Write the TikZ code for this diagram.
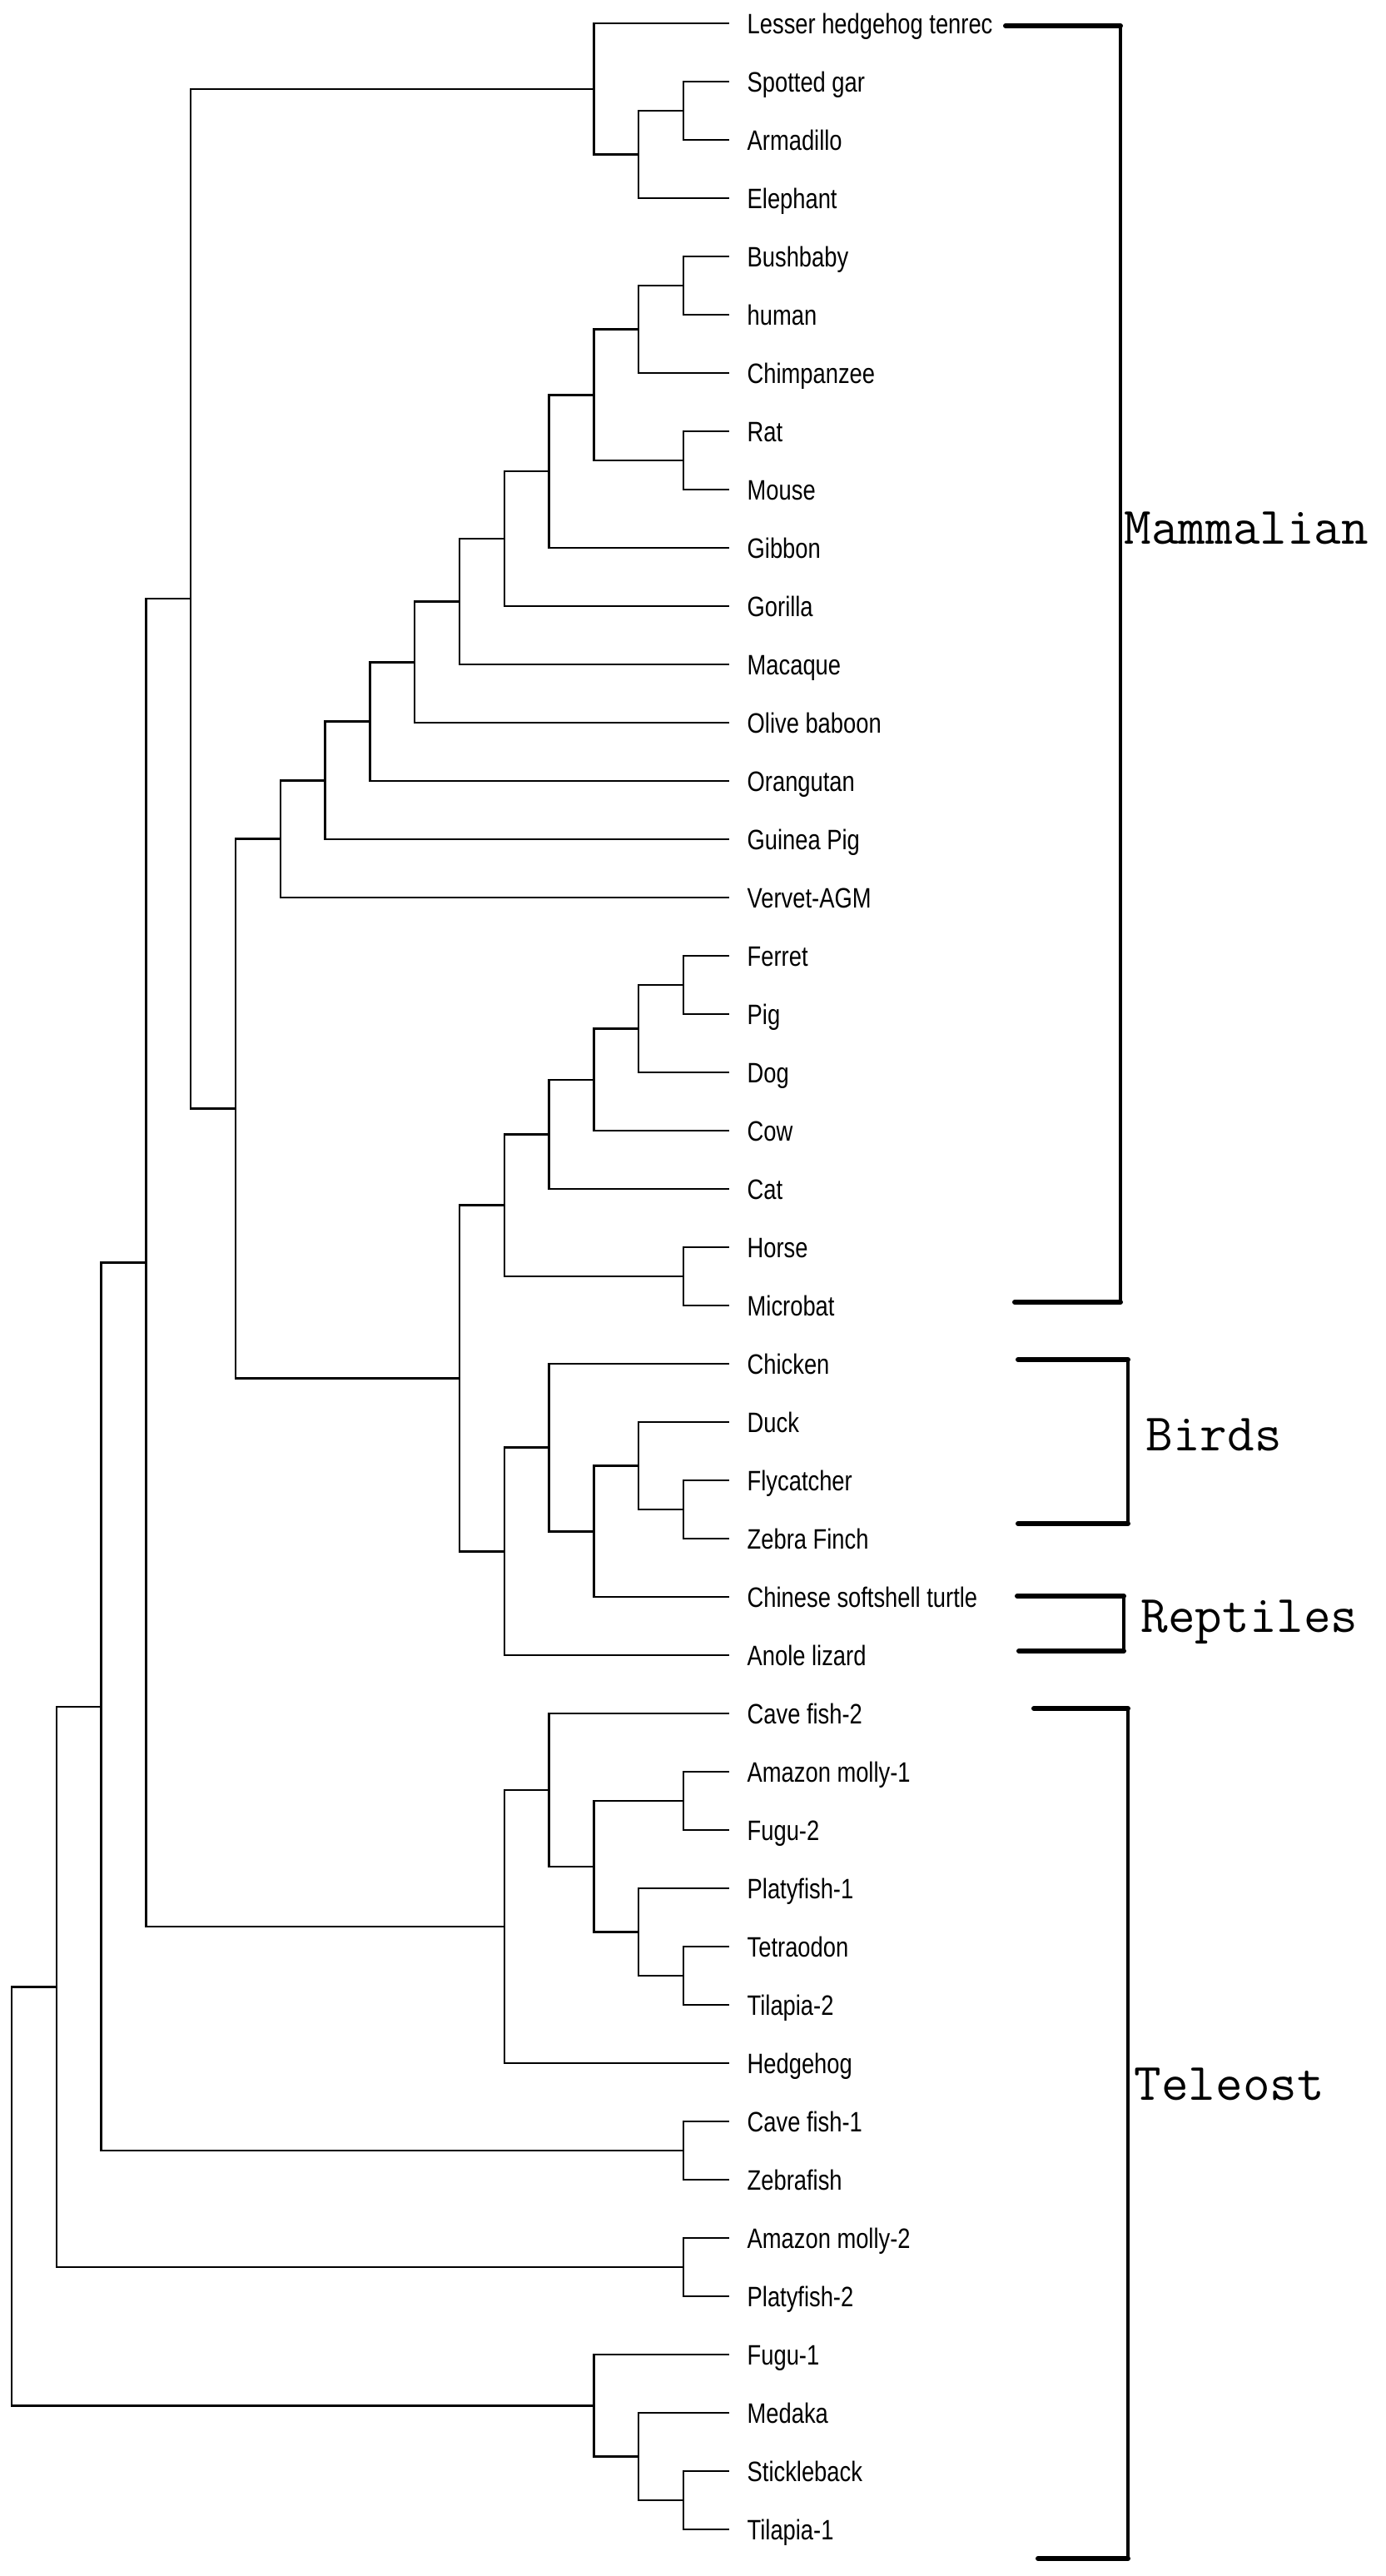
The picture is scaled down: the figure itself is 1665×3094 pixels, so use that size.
\documentclass[tikz,border=0pt]{standalone}
\usepackage{fontspec}
\newfontfamily\leaffont[FakeStretch=0.81]{Liberation Sans}
\usepackage{tikz}
\tikzset{
  leaf/.style={anchor=west, inner xsep=2.1mm, inner ysep=0pt, text height=2.4mm, text depth=0pt, font=\leaffont\fontsize{9.6}{11}\selectfont},
  branch/.style={line width=0.25mm},
  cladebar/.style={line width=0.6mm, line cap=round},
  cladeside/.style={line width=0.38mm},
  cladename/.style={anchor=base west, inner sep=0pt, font=\ttfamily\fontsize{18}{20}\selectfont}
}

\begin{document}
\begin{tikzpicture}[x=0.1mm, y=-0.1mm]
\useasboundingbox (0,0) rectangle (1665,3094);
% taxa
\node[leaf] (t0) at (876,28) {Lesser hedgehog tenrec};
\node[leaf] (t1) at (876,98) {Spotted gar};
\node[leaf] (t2) at (876,168) {Armadillo};
\node[leaf] (t3) at (876,238) {Elephant};
\node[leaf] (t4) at (876,308) {Bushbaby};
\node[leaf] (t5) at (876,378) {human};
\node[leaf] (t6) at (876,448) {Chimpanzee};
\node[leaf] (t7) at (876,518) {Rat};
\node[leaf] (t8) at (876,588) {Mouse};
\node[leaf] (t9) at (876,658) {Gibbon};
\node[leaf] (t10) at (876,728) {Gorilla};
\node[leaf] (t11) at (876,798) {Macaque};
\node[leaf] (t12) at (876,868) {Olive baboon};
\node[leaf] (t13) at (876,938) {Orangutan};
\node[leaf] (t14) at (876,1008) {Guinea Pig};
\node[leaf] (t15) at (876,1078) {Vervet-AGM};
\node[leaf] (t16) at (876,1148) {Ferret};
\node[leaf] (t17) at (876,1218) {Pig};
\node[leaf] (t18) at (876,1288) {Dog};
\node[leaf] (t19) at (876,1358) {Cow};
\node[leaf] (t20) at (876,1428) {Cat};
\node[leaf] (t21) at (876,1498) {Horse};
\node[leaf] (t22) at (876,1568) {Microbat};
\node[leaf] (t23) at (876,1638) {Chicken};
\node[leaf] (t24) at (876,1708) {Duck};
\node[leaf] (t25) at (876,1778) {Flycatcher};
\node[leaf] (t26) at (876,1848) {Zebra Finch};
\node[leaf] (t27) at (876,1918) {Chinese softshell turtle};
\node[leaf] (t28) at (876,1988) {Anole lizard};
\node[leaf] (t29) at (876,2058) {Cave fish-2};
\node[leaf] (t30) at (876,2128) {Amazon molly-1};
\node[leaf] (t31) at (876,2198) {Fugu-2};
\node[leaf] (t32) at (876,2268) {Platyfish-1};
\node[leaf] (t33) at (876,2338) {Tetraodon};
\node[leaf] (t34) at (876,2408) {Tilapia-2};
\node[leaf] (t35) at (876,2478) {Hedgehog};
\node[leaf] (t36) at (876,2548) {Cave fish-1};
\node[leaf] (t37) at (876,2618) {Zebrafish};
\node[leaf] (t38) at (876,2688) {Amazon molly-2};
\node[leaf] (t39) at (876,2758) {Platyfish-2};
\node[leaf] (t40) at (876,2828) {Fugu-1};
\node[leaf] (t41) at (876,2898) {Medaka};
\node[leaf] (t42) at (876,2968) {Stickleback};
\node[leaf] (t43) at (876,3038) {Tilapia-1};
% inner nodes
\coordinate (a1) at (821,133);
\coordinate (a2) at (767.2,185.5);
\coordinate (a3) at (713.4,106.8);
\coordinate (b1) at (821,343);
\coordinate (b2) at (767.2,395.5);
\coordinate (b3) at (821,553);
\coordinate (b4) at (713.4,474.3);
\coordinate (b5) at (659.6,566.1);
\coordinate (b6) at (605.8,647.1);
\coordinate (b7) at (552,722.5);
\coordinate (b8) at (498.2,795.3);
\coordinate (b9) at (444.4,866.6);
\coordinate (b10) at (390.6,937.3);
\coordinate (b11) at (336.8,1007.7);
\coordinate (c1) at (821,1183);
\coordinate (c2) at (767.2,1235.5);
\coordinate (c3) at (713.4,1296.8);
\coordinate (c4) at (659.6,1362.4);
\coordinate (c5) at (821,1533);
\coordinate (c6) at (605.8,1447.7);
\coordinate (d1) at (821,1813);
\coordinate (d2) at (767.2,1760.5);
\coordinate (d3) at (713.4,1839.3);
\coordinate (d4) at (659.6,1738.6);
\coordinate (d5) at (605.8,1863.3);
\coordinate (e1) at (552,1655.5);
\coordinate (e2) at (283,1331.6);
\coordinate (e3) at (229.2,719.2);
\coordinate (f1) at (821,2163);
\coordinate (f2) at (821,2373);
\coordinate (f3) at (767.2,2320.5);
\coordinate (f4) at (713.4,2241.8);
\coordinate (f5) at (659.6,2149.9);
\coordinate (f6) at (605.8,2313.9);
\coordinate (g1) at (175.4,1516.6);
\coordinate (g2) at (821,2583);
\coordinate (g3) at (121.6,2049.8);
\coordinate (g4) at (821,2723);
\coordinate (g5) at (67.8,2386.4);
\coordinate (h1) at (821,3003);
\coordinate (h2) at (767.2,2950.5);
\coordinate (h3) at (713.4,2889.3);
\coordinate (r) at (14,2637.8);
% branches
\draw[branch] (a1) |- (t1.west); \draw[branch] (a1) |- (t2.west);
\draw[branch] (a2) |- (a1); \draw[branch] (a2) |- (t3.west);
\draw[branch] (a3) |- (t0.west); \draw[branch] (a3) |- (a2);
\draw[branch] (b1) |- (t4.west); \draw[branch] (b1) |- (t5.west);
\draw[branch] (b2) |- (b1); \draw[branch] (b2) |- (t6.west);
\draw[branch] (b3) |- (t7.west); \draw[branch] (b3) |- (t8.west);
\draw[branch] (b4) |- (b2); \draw[branch] (b4) |- (b3);
\draw[branch] (b5) |- (b4); \draw[branch] (b5) |- (t9.west);
\draw[branch] (b6) |- (b5); \draw[branch] (b6) |- (t10.west);
\draw[branch] (b7) |- (b6); \draw[branch] (b7) |- (t11.west);
\draw[branch] (b8) |- (b7); \draw[branch] (b8) |- (t12.west);
\draw[branch] (b9) |- (b8); \draw[branch] (b9) |- (t13.west);
\draw[branch] (b10) |- (b9); \draw[branch] (b10) |- (t14.west);
\draw[branch] (b11) |- (b10); \draw[branch] (b11) |- (t15.west);
\draw[branch] (c1) |- (t16.west); \draw[branch] (c1) |- (t17.west);
\draw[branch] (c2) |- (c1); \draw[branch] (c2) |- (t18.west);
\draw[branch] (c3) |- (c2); \draw[branch] (c3) |- (t19.west);
\draw[branch] (c4) |- (c3); \draw[branch] (c4) |- (t20.west);
\draw[branch] (c5) |- (t21.west); \draw[branch] (c5) |- (t22.west);
\draw[branch] (c6) |- (c4); \draw[branch] (c6) |- (c5);
\draw[branch] (d1) |- (t25.west); \draw[branch] (d1) |- (t26.west);
\draw[branch] (d2) |- (t24.west); \draw[branch] (d2) |- (d1);
\draw[branch] (d3) |- (d2); \draw[branch] (d3) |- (t27.west);
\draw[branch] (d4) |- (t23.west); \draw[branch] (d4) |- (d3);
\draw[branch] (d5) |- (d4); \draw[branch] (d5) |- (t28.west);
\draw[branch] (e1) |- (c6); \draw[branch] (e1) |- (d5);
\draw[branch] (e2) |- (b11); \draw[branch] (e2) |- (e1);
\draw[branch] (e3) |- (a3); \draw[branch] (e3) |- (e2);
\draw[branch] (f1) |- (t30.west); \draw[branch] (f1) |- (t31.west);
\draw[branch] (f2) |- (t33.west); \draw[branch] (f2) |- (t34.west);
\draw[branch] (f3) |- (t32.west); \draw[branch] (f3) |- (f2);
\draw[branch] (f4) |- (f1); \draw[branch] (f4) |- (f3);
\draw[branch] (f5) |- (t29.west); \draw[branch] (f5) |- (f4);
\draw[branch] (f6) |- (f5); \draw[branch] (f6) |- (t35.west);
\draw[branch] (g1) |- (e3); \draw[branch] (g1) |- (f6);
\draw[branch] (g2) |- (t36.west); \draw[branch] (g2) |- (t37.west);
\draw[branch] (g3) |- (g1); \draw[branch] (g3) |- (g2);
\draw[branch] (g4) |- (t38.west); \draw[branch] (g4) |- (t39.west);
\draw[branch] (g5) |- (g3); \draw[branch] (g5) |- (g4);
\draw[branch] (h1) |- (t42.west); \draw[branch] (h1) |- (t43.west);
\draw[branch] (h2) |- (t41.west); \draw[branch] (h2) |- (h1);
\draw[branch] (h3) |- (t40.west); \draw[branch] (h3) |- (h2);
\draw[branch] (r) |- (g5); \draw[branch] (r) |- (h3);
% clade brackets
\coordinate (m1) at (1208,31); \coordinate (m2) at (1346,31);
\coordinate (m3) at (1346,1564); \coordinate (m4) at (1219,1564);
\draw[cladebar] (m1) -- (m2); \draw[cladeside] (m2) -- (m3); \draw[cladebar] (m4) -- (m3);
\coordinate (bd1) at (1223,1633); \coordinate (bd2) at (1355,1633);
\coordinate (bd3) at (1355,1830); \coordinate (bd4) at (1223,1830);
\draw[cladebar] (bd1) -- (bd2); \draw[cladeside] (bd2) -- (bd3); \draw[cladebar] (bd4) -- (bd3);
\coordinate (rp1) at (1222,1917); \coordinate (rp2) at (1350,1917);
\coordinate (rp3) at (1350,1983); \coordinate (rp4) at (1224,1983);
\draw[cladebar] (rp1) -- (rp2); \draw[cladeside] (rp2) -- (rp3); \draw[cladebar] (rp4) -- (rp3);
\coordinate (tl1) at (1242,2052); \coordinate (tl2) at (1355,2052);
\coordinate (tl3) at (1355,3073); \coordinate (tl4) at (1247,3073);
\draw[cladebar] (tl1) -- (tl2); \draw[cladeside] (tl2) -- (tl3); \draw[cladebar] (tl4) -- (tl3);
\node[cladename] (mam) at (1350,653) {Mammalian};
\node[cladename] (bird) at (1376,1742) {Birds};
\node[cladename] (rept) at (1370,1960) {Reptiles};
\node[cladename] (tele) at (1362,2522) {Teleost};
\end{tikzpicture}
\end{document}
